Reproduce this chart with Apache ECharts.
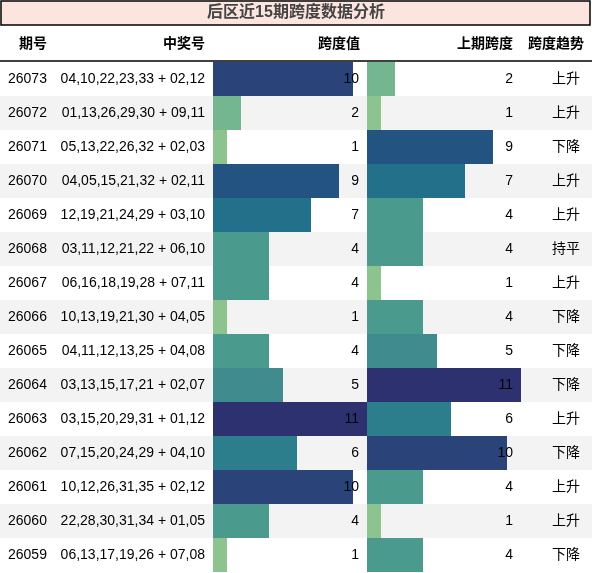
<!DOCTYPE html>
<html>
<head>
<meta charset="utf-8">
<script src="https://cdn.jsdelivr.net/npm/echarts@6/dist/echarts.min.js"></script>
<style>html,body{margin:0;padding:0;background:#fff;}#c{width:592px;height:573px;}</style>
</head>
<body>
<div id="c"></div>
<script>
var titleText = '后区近15期跨度数据分析';
var headers = ['期号', '中奖号', '跨度值', '上期跨度', '跨度趋势'];
var periods = ['26073','26072','26071','26070','26069','26068','26067','26066','26065','26064','26063','26062','26061','26060','26059'];
var numbers = [
  '04,10,22,23,33 + 02,12','01,13,26,29,30 + 09,11','05,13,22,26,32 + 02,03','04,05,15,21,32 + 02,11',
  '12,19,21,24,29 + 03,10','03,11,12,21,22 + 06,10','06,16,18,19,28 + 07,11','10,13,19,21,30 + 04,05',
  '04,11,12,13,25 + 04,08','03,13,15,17,21 + 02,07','03,15,20,29,31 + 01,12','07,15,20,24,29 + 04,10',
  '10,12,26,31,35 + 02,12','22,28,30,31,34 + 01,05','06,13,17,19,26 + 07,08'
];
var spans = [10,2,1,9,7,4,4,1,4,5,11,6,10,4,1];
var prevSpans = [2,1,9,7,4,4,1,4,5,11,6,10,4,1,4];
var trends = ['上升','上升','下降','上升','上升','持平','上升','下降','下降','下降','上升','下降','上升','上升','下降'];

var palette = {1:'#8dc38e',2:'#74b68f',3:'#5fa88f',4:'#4a9a8d',5:'#3f8b8e',6:'#2c7e8d',7:'#22708a',8:'#216285',9:'#235381',10:'#2a4378',11:'#2d3170'};
var FONT = '"Liberation Sans", "Noto Sans CJK SC", sans-serif';

var chart = echarts.init(document.getElementById('c'));
var top0 = 62, h = 510;
function hiddenX(idx, max) {
  return {type:'value', gridIndex:idx, min:0, max:max, axisLine:{show:false}, axisTick:{show:false}, axisLabel:{show:false}, splitLine:{show:false}};
}
function catY(idx, pos, inside, margin, fmt, z) {
  return {
    type:'category', gridIndex:idx, data:periods, inverse:true, position:pos,
    axisLine:{show:false}, axisTick:{show:false}, splitLine:{show:false}, z:z,
    axisLabel:{show:true, inside:inside, margin:margin, color:'#000', fontSize:14, fontFamily:FONT, formatter:fmt}
  };
}
var yA = catY(0,'left',true,8,function(v,i){return periods[i];},0);
yA.splitArea = {show:true, areaStyle:{color:['#ffffff','#f3f3f3']}};
function colored(arr) {
  return arr.map(function(v){ return {value:v, itemStyle:{color:palette[v]}}; });
}
var option = {
  animation:false,
  backgroundColor:'#ffffff',
  grid:[
    {left:0, width:592, top:top0, height:h, outerBoundsMode:'none'},
    {left:213, width:154, top:top0, height:h, outerBoundsMode:'none'},
    {left:367, width:154, top:top0, height:h, outerBoundsMode:'none'}
  ],
  xAxis:[hiddenX(0,1), hiddenX(1,11), hiddenX(2,11)],
  yAxis:[
    yA,
    catY(0,'right',true,12,function(v,i){return trends[i];},5),
    catY(1,'left',false,8,function(v,i){return numbers[i];},5),
    catY(1,'right',true,8,function(v,i){return String(spans[i]);},5),
    catY(2,'right',true,8,function(v,i){return String(prevSpans[i]);},5)
  ],
  series:[
    {type:'bar', xAxisIndex:1, yAxisIndex:2, data:colored(spans), barWidth:'100%'},
    {type:'bar', xAxisIndex:2, yAxisIndex:4, data:colored(prevSpans), barWidth:'100%'}
  ],
  graphic:[
    {type:'rect', shape:{x:1, y:1, width:589, height:24}, style:{fill:'#fde5df', stroke:'#000', lineWidth:1.5}, z:10},
    {type:'text', x:296, y:13, style:{text:titleText, fill:'#444', font:'bold 16px ' + FONT, textAlign:'center', textVerticalAlign:'middle'}, z:11},
    {type:'text', x:47, y:44, style:{text:headers[0], fill:'#000', font:'bold 14px ' + FONT, textAlign:'right', textVerticalAlign:'middle'}, z:11},
    {type:'text', x:205, y:44, style:{text:headers[1], fill:'#000', font:'bold 14px ' + FONT, textAlign:'right', textVerticalAlign:'middle'}, z:11},
    {type:'text', x:360, y:44, style:{text:headers[2], fill:'#000', font:'bold 14px ' + FONT, textAlign:'right', textVerticalAlign:'middle'}, z:11},
    {type:'text', x:513, y:44, style:{text:headers[3], fill:'#000', font:'bold 14px ' + FONT, textAlign:'right', textVerticalAlign:'middle'}, z:11},
    {type:'text', x:584, y:44, style:{text:headers[4], fill:'#000', font:'bold 14px ' + FONT, textAlign:'right', textVerticalAlign:'middle'}, z:11},
    {type:'line', shape:{x1:0, y1:61, x2:592, y2:61}, style:{stroke:'#000', lineWidth:1.5}, z:11}
  ]
};
chart.setOption(option);
</script>
</body>
</html>
